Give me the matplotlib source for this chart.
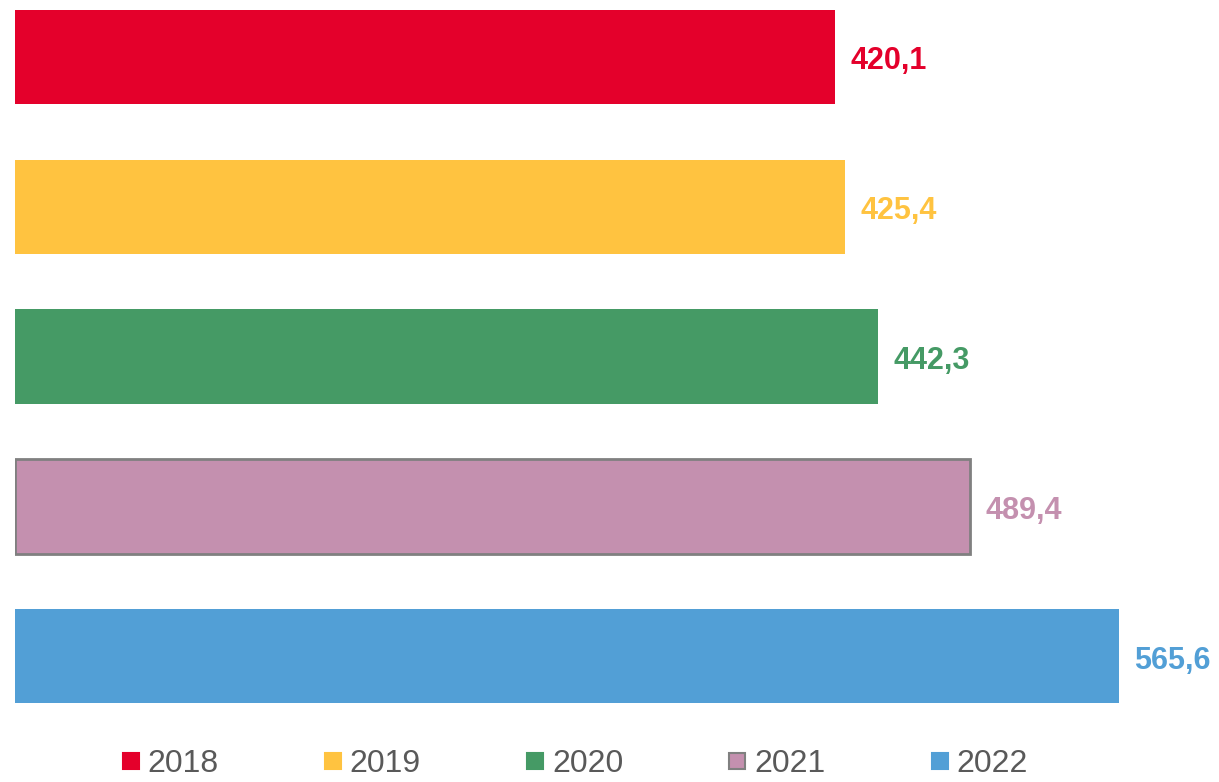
import matplotlib.pyplot as plt
from matplotlib.lines import Line2D

years = ['2018', '2019', '2020', '2021', '2022']
values = [420.1, 425.4, 442.3, 489.4, 565.6]
labels = ['420,1', '425,4', '442,3', '489,4', '565,6']
colors = ['#E4002B', '#FFC340', '#459A65', '#C490AF', '#529FD6']
edges = ['none', 'none', 'none', '#808080', 'none']

plt.rcParams['font.family'] = ['Liberation Sans', 'DejaVu Sans']

fig = plt.figure(figsize=(12.19, 7.82), dpi=100)
ax = fig.add_axes([15/1219, 0, 1 - 15/1219, 1])

pos = list(range(len(years)))
ax.barh(pos, values, height=0.627, color=colors, edgecolor=edges, linewidth=2)
for p, v, lab, c in zip(pos, values, labels, colors):
    ax.text(v + 8, p + 0.027, lab, color=c, fontsize=22, fontweight='bold',
            va='center', ha='left')

ax.set_xlim(0, 617)
ax.set_ylim(4.837, -0.377)
ax.axis('off')

handles = [Line2D([], [], linestyle='none', marker='s', markersize=11.5,
                  markerfacecolor=c, markeredgecolor=(e if e != 'none' else c),
                  markeredgewidth=1.5)
           for c, e in zip(colors, edges)]
fig.legend(handles, years, loc='center', bbox_to_anchor=(0.4717, 0.023),
           ncol=5, frameon=False, fontsize=23, labelcolor='#595959',
           handlelength=0.55, handletextpad=0.25, columnspacing=3.3,
           borderpad=0.1)

fig.savefig('out.png', dpi=100)
